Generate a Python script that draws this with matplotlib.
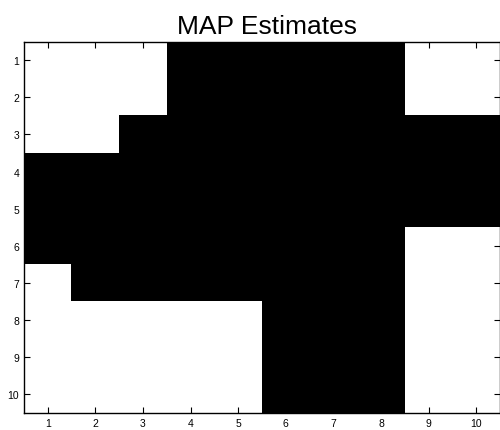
import numpy as np
import matplotlib
matplotlib.use("Agg")
import matplotlib.pyplot as plt

# MAP estimate per pixel (1 = black)
map_rows = [
    [0, 0, 0, 1, 1, 1, 1, 1, 0, 0],
    [0, 0, 0, 1, 1, 1, 1, 1, 0, 0],
    [0, 0, 1, 1, 1, 1, 1, 1, 1, 1],
    [1, 1, 1, 1, 1, 1, 1, 1, 1, 1],
    [1, 1, 1, 1, 1, 1, 1, 1, 1, 1],
    [1, 1, 1, 1, 1, 1, 1, 1, 0, 0],
    [0, 1, 1, 1, 1, 1, 1, 1, 0, 0],
    [0, 0, 0, 0, 0, 1, 1, 1, 0, 0],
    [0, 0, 0, 0, 0, 1, 1, 1, 0, 0],
    [0, 0, 0, 0, 0, 1, 1, 1, 0, 0],
]
tick_vals = list(range(1, 11))
title = "MAP Estimates"

plt.rcParams["font.family"] = ["Liberation Sans", "DejaVu Sans"]

fig = plt.figure(figsize=(5.0, 4.31), dpi=100)
ax = fig.add_axes([0.048, 0.0394, 0.952, 0.8617])

img = np.array(map_rows)
ax.imshow(img, cmap="gray_r", vmin=0, vmax=1, interpolation="nearest",
          aspect="auto", extent=(0.5, 10.5, 10.5, 0.5))

ax.set_xticks(tick_vals)
ax.set_yticks(tick_vals)
ax.tick_params(direction="in", length=4, width=0.8, labelsize=7.5,
               top=True, right=True, pad=3.5)
for s in ax.spines.values():
    s.set_linewidth(1.0)
ax.set_title(title, fontsize=19, pad=6.5, x=0.511)

fig.savefig("out.png", dpi=100)
